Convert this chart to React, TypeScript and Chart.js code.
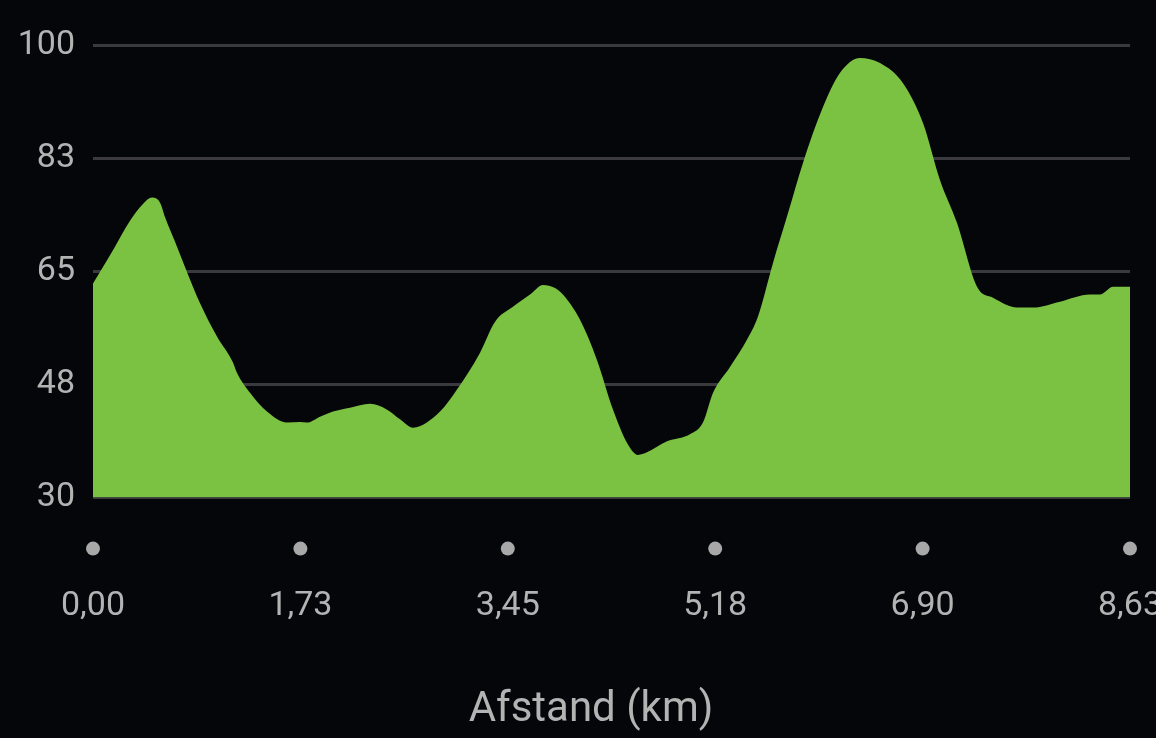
import React, { useEffect, useRef } from "react";
import { Chart, registerables } from "chart.js";

Chart.register(...registerables);

// Distance along the route (km)
const DISTANCE_KM = [
  0, 0.058, 0.183, 0.308, 0.416, 0.491, 0.558, 0.599, 0.682, 0.782,
  0.89, 1.032, 1.165, 1.198, 1.307, 1.448, 1.614, 1.723, 1.781, 1.889,
  1.997, 2.139, 2.305, 2.447, 2.555, 2.663, 2.888, 3.029, 3.221, 3.346,
  3.495, 3.637, 3.745, 3.845, 3.911, 4.053, 4.194, 4.328, 4.452, 4.535,
  4.61, 4.777, 4.968, 5.076, 5.16, 5.301, 5.442, 5.534, 5.659, 5.784,
  5.909, 6.075, 6.217, 6.383, 6.55, 6.741, 6.908, 7.049, 7.19, 7.357,
  7.49, 7.69, 7.823, 8.048, 8.297, 8.38, 8.489, 8.63,
];

// Elevation (m)
const ELEVATION_M = [
  63.1, 64.9, 68.8, 72.8, 75.4, 76.4, 75.6, 73.4, 69.6, 64.9,
  60.1, 54.9, 50.9, 49.3, 46.2, 43.3, 41.6, 41.7, 41.6, 42.5,
  43.3, 43.9, 44.5, 43.6, 42.1, 40.8, 43.3, 46.7, 52.4, 57.2,
  59.5, 61.4, 62.9, 62.4, 61.4, 57.5, 51.3, 43.6, 38.2, 36.6,
  37.0, 38.7, 39.8, 41.6, 46.2, 50.2, 54.4, 58.0, 66.3, 74.0,
  81.8, 90.4, 95.7, 98.0, 97.2, 94.1, 87.9, 79.1, 72.5, 62.6,
  60.9, 59.4, 59.4, 60.3, 61.4, 61.4, 62.6, 62.6,
];

const X_TICKS = [0, 1.726, 3.452, 5.178, 6.904, 8.63];
const X_TICK_LABELS = ["0,00", "1,73", "3,45", "5,18", "6,90", "8,63"];
const Y_TICKS = [30, 47.5, 65, 82.5, 100];
const Y_TICK_LABELS = ["30", "48", "65", "83", "100"];
const X_TITLE = "Afstand (km)";

const BG = "#05060a";
const FILL = "#7bc142";
const TEXT = "#b3b3b3";
const GRID = "#3a3a3e";
const DOT = "#a8a8a8";
const FONT = "Roboto";

const tickDots = {
  id: "tickDots",
  afterDraw(chart: any) {
    const { ctx, chartArea, scales } = chart;
    const xs = scales.x;
    ctx.save();
    ctx.fillStyle = DOT;
    xs.ticks.forEach((t: any) => {
      const px = xs.getPixelForValue(t.value);
      ctx.beginPath();
      ctx.arc(px, chartArea.bottom + 51, 7, 0, Math.PI * 2);
      ctx.fill();
    });
    ctx.restore();
  },
};

export default function App() {
  const ref = useRef<HTMLCanvasElement | null>(null);

  useEffect(() => {
    if (!ref.current) return;
    const points = DISTANCE_KM.map((x, i) => ({ x, y: ELEVATION_M[i] }));
    const chart = new Chart(ref.current, {
      type: "line",
      data: {
        datasets: [
          {
            data: points,
            borderWidth: 0,
            borderColor: FILL,
            backgroundColor: FILL,
            fill: "start",
            pointRadius: 0,
            cubicInterpolationMode: "monotone",
          },
        ],
      },
      plugins: [tickDots],
      options: {
        animation: false,
        responsive: false,
        layout: { padding: { top: 45, left: 0, right: 0, bottom: 0 } },
        plugins: {
          legend: { display: false },
          tooltip: { enabled: false },
          title: {
            display: true,
            text: X_TITLE,
            position: "bottom",
            color: TEXT,
            font: { family: FONT, size: 42, weight: "normal" },
            padding: { top: 0, bottom: 2 },
          },
        },
        scales: {
          x: {
            type: "linear",
            min: 0,
            max: 8.63,
            grid: { display: false, drawTicks: false },
            border: { display: false },
            afterBuildTicks: (s: any) => {
              s.ticks = X_TICKS.map((v) => ({ value: v }));
            },
            afterFit: (s: any) => {
              s.height = 188;
            },
            ticks: {
              autoSkip: false,
              maxRotation: 0,
              padding: 0,
              color: TEXT,
              font: { family: FONT, size: 34, lineHeight: 6.43 },
              callback: (_v: any, i: number) => X_TICK_LABELS[i],
            },
          },
          y: {
            type: "linear",
            position: "left",
            min: 30,
            max: 100,
            grid: { color: GRID, lineWidth: 3, drawTicks: false },
            border: { display: false },
            afterBuildTicks: (s: any) => {
              s.ticks = Y_TICKS.map((v) => ({ value: v }));
            },
            afterFit: (s: any) => {
              s.width = 93;
            },
            ticks: {
              padding: 18,
              color: TEXT,
              font: { family: FONT, size: 34 },
              callback: (_v: any, i: number) => Y_TICK_LABELS[i],
            },
          },
          yR: {
            type: "linear",
            position: "right",
            display: true,
            grid: { display: false, drawTicks: false },
            border: { display: false },
            ticks: { display: false },
            afterFit: (s: any) => {
              s.width = 52;
            },
          },
        },
      },
    } as any);
    return () => chart.destroy();
  }, []);

  return (
    <div
      style={{
        position: "fixed",
        left: 0,
        top: 0,
        width: 1156,
        height: 738,
        overflow: "hidden",
        background: BG,
      }}
    >
      <canvas ref={ref} width={1182} height={738} style={{ display: "block" }} />
    </div>
  );
}
